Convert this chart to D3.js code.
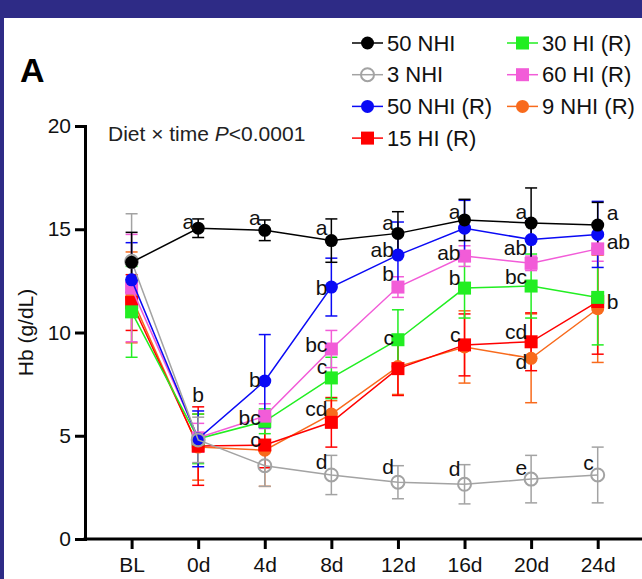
<!DOCTYPE html>
<html>
<head>
<meta charset="utf-8">
<script src="https://cdn.jsdelivr.net/npm/d3@7"></script>
<style>
  html, body { margin: 0; background: #fff; overflow: hidden; }
  svg { display: block; font-family: "Liberation Sans", Arial, sans-serif; }
</style>
</head>
<body>
<div id="chart"></div>
<script>
// time points on the x axis
var times = ["BL", "0d", "4d", "8d", "12d", "16d", "20d", "24d"];
var yTicks = [0, 5, 10, 15, 20];

// group means (Hb, g/dL) and error bar half-widths
var nhi50 = [13.4, 15.05, 14.95, 14.45, 14.8, 15.45, 15.3, 15.2];
var nhi50Err = [1.45, 0.45, 0.5, 1.05, 1.05, 1.0, 1.7, 1.1];

var nhi3 = [13.45, 4.8, 3.55, 3.1, 2.75, 2.65, 2.9, 3.1];
var nhi3Err = [2.3, 1.1, 1.0, 0.95, 0.8, 0.95, 1.15, 1.35];

var nhi50R = [12.55, 4.85, 7.65, 12.2, 13.75, 15.05, 14.5, 14.75];
var nhi50RErr = [1.8, 1.35, 2.25, 1.4, 1.6, 1.35, 0.9, 1.6];

var hi15R = [11.45, 4.5, 4.55, 5.65, 8.25, 9.4, 9.55, 11.5];
var hi15RErr = [1.35, 1.9, 1.1, 1.2, 1.3, 1.5, 1.4, 2.55];

var hi30R = [11.0, 4.85, 5.7, 7.8, 9.65, 12.15, 12.25, 11.7];
var hi30RErr = [2.2, 1.2, 0.6, 1.0, 1.45, 1.45, 1.55, 2.3];

var hi60R = [12.15, 4.9, 5.95, 9.2, 12.2, 13.7, 13.35, 14.05];
var hi60RErr = [2.6, 0.7, 0.6, 0.9, 0.5, 0.5, 0.35, 0.6];

var nhi9R = [11.7, 4.45, 4.3, 6.05, 8.35, 9.3, 8.75, 11.15];
var nhi9RErr = [2.2, 1.6, 1.75, 0.65, 1.35, 1.75, 2.15, 2.6];

// letters of significance: [time, value where the letter sits, text, side]
var letters = [
  ["0d", 15.35, "a", "left"], ["4d", 15.55, "a", "left"], ["8d", 15.06, "a", "left"],
  ["12d", 15.29, "a", "left"], ["16d", 15.85, "a", "left"], ["20d", 15.85, "a", "left"],
  ["24d", 15.77, "a", "right"],
  ["0d", 6.97, "b", "mid"],
  ["4d", 7.7, "b", "left"], ["4d", 5.86, "bc", "left"], ["4d", 4.79, "c", "left"],
  ["8d", 12.15, "b", "left"], ["8d", 9.39, "bc", "left"], ["8d", 8.33, "c", "left"],
  ["8d", 6.3, "cd", "left"], ["8d", 3.73, "d", "left"],
  ["12d", 14.0, "ab", "left"], ["12d", 12.83, "b", "left"], ["12d", 9.73, "c", "left"],
  ["12d", 3.49, "d", "left"],
  ["16d", 13.86, "ab", "left"], ["16d", 12.64, "b", "left"], ["16d", 9.88, "c", "left"],
  ["16d", 3.4, "d", "left"],
  ["20d", 14.08, "ab", "left"], ["20d", 12.7, "bc", "left"], ["20d", 10.04, "cd", "left"],
  ["20d", 8.59, "d", "left"], ["20d", 3.44, "e", "left"],
  ["24d", 14.4, "ab", "right"], ["24d", 11.49, "b", "right"], ["24d", 3.68, "c", "left"]
];

// drawing order: last one ends up on top
var series = [
  { name: "9 NHI (R)", values: nhi9R, err: nhi9RErr, color: "#f86a1c", shape: "circle" },
  { name: "15 HI (R)", values: hi15R, err: hi15RErr, color: "#ff0000", shape: "square" },
  { name: "30 HI (R)", values: hi30R, err: hi30RErr, color: "#22ee22", shape: "square" },
  { name: "60 HI (R)", values: hi60R, err: hi60RErr, color: "#f25cd8", shape: "square" },
  { name: "50 NHI (R)", values: nhi50R, err: nhi50RErr, color: "#0a0af5", shape: "circle" },
  { name: "3 NHI", values: nhi3, err: nhi3Err, color: "#a3a3a3", shape: "open" },
  { name: "50 NHI", values: nhi50, err: nhi50Err, color: "#000000", shape: "circle" }
];

var legendCols = [
  ["50 NHI", "3 NHI", "50 NHI (R)", "15 HI (R)"],
  ["30 HI (R)", "60 HI (R)", "9 NHI (R)"]
];

var svgWidth = 642;
var svgHeight = 579;

var svg = d3.select("#chart")
  .append("svg")
  .attr("width", svgWidth)
  .attr("height", svgHeight);

// page background with the dark frame on top and left
svg.append("rect").attr("width", svgWidth).attr("height", svgHeight).attr("fill", "#2e2b86");
svg.append("rect").attr("x", 4).attr("y", 18).attr("width", svgWidth).attr("height", svgHeight)
  .attr("fill", "#ffffff");

var xScale = d3.scalePoint().domain(times).range([131.6, 597.7]);
var yScale = d3.scaleLinear().domain([0, 20]).range([539, 126]);

var axisLeftX = 85;

// axes
var yAxis = svg.append("g")
  .attr("transform", `translate(${axisLeftX},0)`)
  .call(d3.axisLeft(yScale).tickValues(yTicks).tickSize(10).tickSizeOuter(0).tickPadding(4));

var xAxis = svg.append("g")
  .attr("transform", `translate(0,${yScale(0)})`)
  .call(d3.axisBottom(xScale).tickSize(10).tickSizeOuter(0).tickPadding(8));
xAxis.select(".domain").remove();

svg.append("line")
  .attr("x1", axisLeftX - 1.5).attr("x2", svgWidth)
  .attr("y1", yScale(0)).attr("y2", yScale(0))
  .attr("stroke", "#000").attr("stroke-width", 3);

[yAxis, xAxis].forEach(function(g) {
  g.selectAll("path, line").attr("stroke", "#000").attr("stroke-width", 3);
  g.selectAll("text").attr("font-size", "21px").attr("fill", "#111")
    .attr("font-family", "Liberation Sans, Arial, sans-serif");
});
yAxis.select(".domain").attr("stroke-linecap", "square");

// axis title
svg.append("text")
  .attr("transform", `translate(33, ${yScale(10)}) rotate(-90)`)
  .attr("text-anchor", "middle")
  .attr("font-size", "21px")
  .attr("fill", "#111")
  .text("Hb (g/dL)");

// panel letter and statistics note
svg.append("text")
  .attr("x", 20).attr("y", 82)
  .attr("font-size", "34px").attr("font-weight", "bold")
  .text("A");

var note = svg.append("text")
  .attr("x", 108).attr("y", 141)
  .attr("font-size", "21px").attr("fill", "#222");
note.append("tspan").text("Diet \u00d7 time ");
note.append("tspan").attr("font-style", "italic").text("P");
note.append("tspan").text("<0.0001");

function drawMarker(g, shape, color, cx, cy) {
  if (shape === "square") {
    g.append("rect")
      .attr("x", cx - 6.5).attr("y", cy - 6.5)
      .attr("width", 13).attr("height", 13)
      .attr("fill", color);
  } else if (shape === "open") {
    g.append("circle")
      .attr("cx", cx).attr("cy", cy).attr("r", 6.5)
      .attr("fill", "none").attr("stroke", color).attr("stroke-width", 2);
  } else {
    g.append("circle")
      .attr("cx", cx).attr("cy", cy).attr("r", 6.5)
      .attr("fill", color);
  }
}

var line = d3.line()
  .x((d, i) => xScale(times[i]))
  .y(d => yScale(d));

// error bars first, then lines and markers per group
series.forEach(function(s) {
  var g = svg.append("g");
  s.values.forEach(function(v, i) {
    var x = xScale(times[i]);
    var top = yScale(v + s.err[i]);
    var bottom = yScale(v - s.err[i]);
    g.append("line").attr("x1", x).attr("x2", x).attr("y1", top).attr("y2", bottom);
    g.append("line").attr("x1", x - 6).attr("x2", x + 6).attr("y1", top).attr("y2", top);
    g.append("line").attr("x1", x - 6).attr("x2", x + 6).attr("y1", bottom).attr("y2", bottom);
  });
  g.selectAll("line").attr("stroke", s.color).attr("stroke-width", 1.5);
});

series.forEach(function(s) {
  var g = svg.append("g");
  g.append("path")
    .datum(s.values)
    .attr("d", line)
    .attr("fill", "none")
    .attr("stroke", s.color)
    .attr("stroke-width", 1.5);
  s.values.forEach(function(v, i) {
    drawMarker(g, s.shape, s.color, xScale(times[i]), yScale(v));
  });
});

// significance letters
svg.append("g")
  .selectAll("text")
  .data(letters)
  .enter()
  .append("text")
  .attr("x", function(d) {
    if (d[3] === "left") return xScale(d[0]) - 4;
    if (d[3] === "right") return xScale(d[0]) + 9;
    return xScale(d[0]);
  })
  .attr("y", d => yScale(d[1]))
  .attr("dy", "0.33em")
  .attr("text-anchor", d => d[3] === "left" ? "end" : (d[3] === "right" ? "start" : "middle"))
  .attr("font-size", "21px")
  .attr("fill", "#111")
  .text(d => d[2]);

// legend
var legendX = [352, 507];
var legendY = 43;
var legendStep = 31.7;
legendCols.forEach(function(col, c) {
  col.forEach(function(name, r) {
    var s = series.find(d => d.name === name);
    var g = svg.append("g");
    var y = legendY + r * legendStep;
    g.append("line")
      .attr("x1", legendX[c]).attr("x2", legendX[c] + 31)
      .attr("y1", y).attr("y2", y)
      .attr("stroke", s.color).attr("stroke-width", 1.5);
    drawMarker(g, s.shape, s.color, legendX[c] + 15.5, y);
    g.append("text")
      .attr("x", legendX[c] + 35).attr("y", y)
      .attr("dy", "0.35em")
      .attr("font-size", "22px")
      .attr("fill", "#111")
      .text(name);
  });
});
</script>
</body>
</html>
